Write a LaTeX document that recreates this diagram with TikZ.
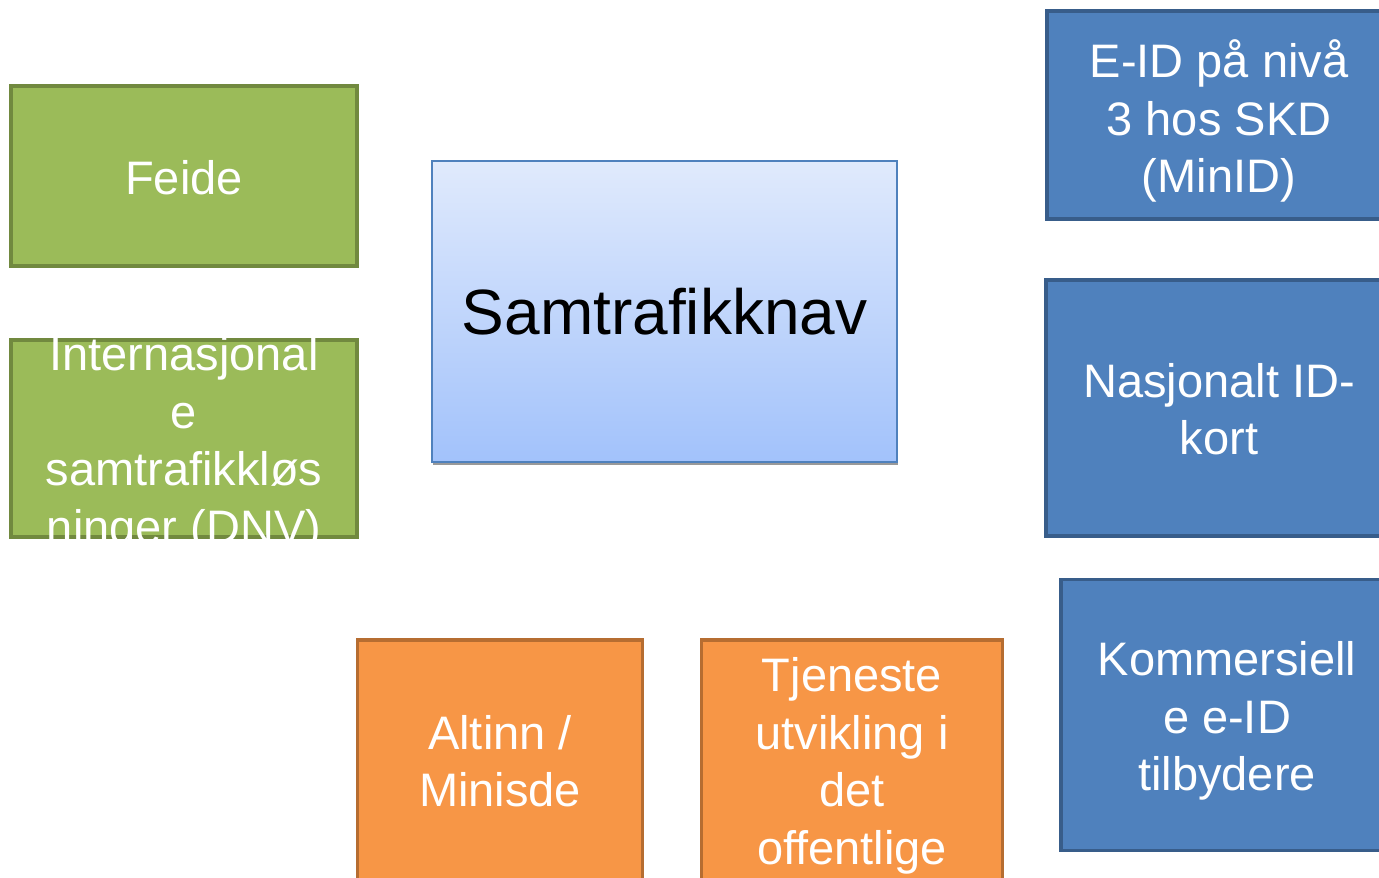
\documentclass[tikz,border=0pt]{standalone}
\usepackage{fontspec}
\setmainfont{Liberation Sans}
\definecolor{grnf}{HTML}{9BBB59}
\definecolor{grnb}{HTML}{71893F}
\definecolor{bluf}{HTML}{4F81BD}
\definecolor{blub}{HTML}{385D8A}
\definecolor{orgf}{HTML}{F79646}
\definecolor{orgb}{HTML}{B66D31}
\definecolor{hubt}{HTML}{E0EAFC}
\definecolor{hubb}{HTML}{A2C2FB}
\definecolor{hubd}{HTML}{4F81BD}
\begin{document}
\begin{tikzpicture}[x=1pt,y=-1pt,
  gbox/.style={rectangle, draw=grnb, fill=grnf, line width=3.5pt, inner sep=0},
  bbox/.style={rectangle, draw=blub, fill=bluf, line width=3.5pt, inner sep=0},
  obox/.style={rectangle, draw=orgb, fill=orgf, line width=3.5pt, inner sep=0},
  hub/.style={rectangle, draw=hubd, top color=hubt, bottom color=hubb, line width=1.5pt, inner sep=0},
  shad/.style={rectangle, fill=black!40, inner sep=0},
  wtxt/.style={text=white, align=center, inner sep=0, font=\fontsize{47}{57.5}\selectfont},
  btxt/.style={text=black, align=center, inner sep=0, font=\fontsize{64}{76}\selectfont}]
\useasboundingbox (0,0) rectangle (1379,878);
\clip (0,0) rectangle (1379,878);

% green boxes
\node[gbox, minimum width=346, minimum height=180] (feide) at (184,176) {};
\node[wtxt] (feidet) at (184,178) {Feide};
\node[gbox, minimum width=346, minimum height=197] (intl) at (184,438.5) {};
\node[wtxt] (intlt) at (184,445) {Internasjonal\\e\\samtrafikkløs\\ninger (DNV)};

% hub
\node[shad, minimum width=465, minimum height=301] (hubs) at (665.5,314.5) {};
\node[hub, minimum width=465, minimum height=301] (hubn) at (664.5,311.5) {};
\node[btxt] (hubt) at (664.5,312) {Samtrafikknav};

% blue boxes
\node[bbox, minimum width=346, minimum height=208] (eid) at (1220,115) {};
\node[wtxt] (eidt) at (1219,121) {E-ID på nivå\\3 hos SKD\\(MinID)};
\node[bbox, minimum width=346, minimum height=256] (nid) at (1219,408) {};
\node[wtxt] (nidt) at (1219,409) {Nasjonalt ID-\\kort};
\node[bbox, minimum width=332, minimum height=271] (kom) at (1227,715) {};
\node[wtxt] (komt) at (1227,721) {Kommersiell\\e e-ID\\tilbydere};

% orange boxes
\node[obox, minimum width=285, minimum height=242] (alt) at (500,761) {};
\node[wtxt] (altt) at (500,761) {Altinn /\\Minisde};
\node[obox, minimum width=301, minimum height=242] (tje) at (852,761) {};
\node[wtxt] (tjet) at (852,766) {Tjeneste\\utvikling i\\det\\offentlige};
\end{tikzpicture}
\end{document}
